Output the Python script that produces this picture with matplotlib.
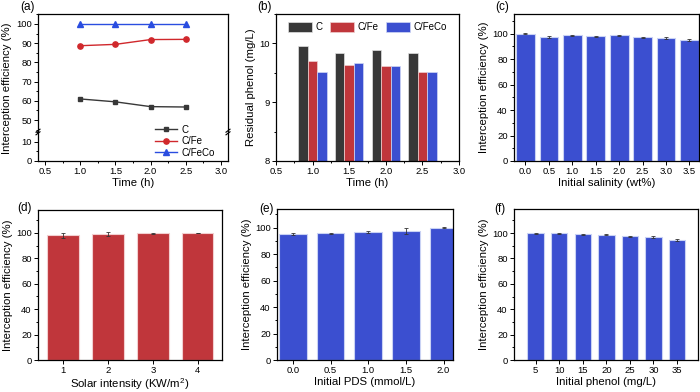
import numpy as np
import matplotlib
matplotlib.use('Agg')
import matplotlib.pyplot as plt
from matplotlib.ticker import MultipleLocator, FormatStrFormatter
from matplotlib.lines import Line2D

plt.rcParams['font.family'] = ['Liberation Sans', 'DejaVu Sans']
plt.rcParams['mathtext.default'] = 'regular'
plt.rcParams['axes.linewidth'] = 0.9

# (a) interception efficiency vs time
time_a = [1.0, 1.5, 2.0, 2.5]
eff_c = [61.0, 59.5, 57.0, 56.8]
eff_cfe = [88.7, 89.4, 91.9, 92.0]
eff_cfeco = [100.0, 100.0, 100.0, 100.0]

# (b) residual phenol vs time
time_b = [1.0, 1.5, 2.0, 2.5]
res_c = [9.95, 9.83, 9.89, 9.83]
res_cfe = [9.70, 9.63, 9.61, 9.51]
res_cfeco = [9.51, 9.67, 9.61, 9.51]

# (c) salinity
salinity = ['0.0', '0.5', '1.0', '1.5', '2.0', '2.5', '3.0', '3.5']
eff_sal = [100.0, 97.6, 98.7, 97.9, 98.7, 97.1, 96.6, 95.3]
err_sal = [0.3, 1.0, 0.5, 0.6, 0.4, 0.5, 0.5, 0.7]

# (d) solar intensity
solar = ['1', '2', '3', '4']
eff_solar = [98.2, 98.9, 99.7, 100.0]
err_solar = [2.0, 1.5, 0.5, 0.2]

# (e) PDS
pds = ['0.0', '0.5', '1.0', '1.5', '2.0']
eff_pds = [95.2, 95.7, 96.7, 97.5, 100.0]
err_pds = [1.0, 0.5, 0.5, 2.0, 0.2]

# (f) initial phenol
phenol = ['5', '10', '15', '20', '25', '30', '35']
eff_phenol = [99.7, 99.7, 99.2, 98.7, 97.4, 96.9, 94.5]
err_phenol = [0.2, 0.2, 0.4, 0.4, 0.5, 0.6, 0.5]

W, H = 700, 392
fig = plt.figure(figsize=(7, 3.92), dpi=100)


def add_ax(l, t, r, b):
    # axes box given in pixels from the top-left corner
    return fig.add_axes([l / W, 1 - b / H, (r - l) / W, (b - t) / H])


def style(ax):
    ax.tick_params(which='both', direction='out', labelsize=6.8, width=0.7,
                   top=False, right=False, pad=1.5)
    ax.tick_params(which='major', length=3)
    ax.tick_params(which='minor', length=1.7)


blue = '#3b4fd0'
red = '#c0363b'
dark = '#383838'
lab_fs = 8.2

# ---------- (a) broken y axis ----------
brk = 132
ax_top = add_ax(38, 14, 228, brk)
ax_bot = add_ax(38, brk, 228, 161)
for ax in (ax_top, ax_bot):
    ax.plot(time_a, eff_c, '-s', color=dark, ms=3.5, lw=1.0)
    ax.plot(time_a, eff_cfe, '-o', color='#d0282c', ms=3.8, lw=1.0)
    ax.plot(time_a, eff_cfeco, '-^', color='#2a4de0', ms=3.8, lw=1.0)
    ax.set_xlim(0.4, 3.1)
    style(ax)
    ax.xaxis.set_major_locator(MultipleLocator(0.5))
    ax.xaxis.set_minor_locator(MultipleLocator(0.25))
    ax.yaxis.set_minor_locator(MultipleLocator(5))
ax_top.set_ylim(43.8, 105.2)
ax_top.set_yticks([50, 60, 70, 80, 90, 100])
ax_top.spines['bottom'].set_visible(False)
ax_top.tick_params(which='both', bottom=False, labelbottom=False)
ax_bot.set_ylim(0, 15)
ax_bot.set_yticks([0, 10])
ax_bot.spines['top'].set_visible(False)
ax_bot.xaxis.set_major_formatter(FormatStrFormatter('%.1f'))
ax_bot.set_xlabel('Time (h)', fontsize=lab_fs, labelpad=1)
fig.text(7 / W, 1 - 88 / H, 'Interception efficiency (%)', rotation=90,
         fontsize=lab_fs, ha='center', va='center')
# break marks on both spines
for xpx in (38, 228):
    for dy in (-1.3, 1.3):
        fig.add_artist(Line2D([(xpx - 2) / W, (xpx + 2) / W],
                              [1 - (brk + dy + 1.5) / H, 1 - (brk + dy - 1.5) / H],
                              color='k', lw=0.8))
handles_a = [Line2D([], [], color=dark, marker='s', ms=3.5, lw=1.0, label='C'),
             Line2D([], [], color='#d0282c', marker='o', ms=3.8, lw=1.0, label='C/Fe'),
             Line2D([], [], color='#2a4de0', marker='^', ms=3.8, lw=1.0, label='C/FeCo')]
fig.legend(handles=handles_a, loc='upper left', bbox_to_anchor=(150 / W, 1 - 120 / H),
           frameon=False, fontsize=7, handlelength=2.3, labelspacing=0.15,
           handletextpad=0.4, borderpad=0)

# ---------- (b) residual phenol ----------
axb = add_ax(276, 14, 459, 161)
bw = 0.13
xb = np.array(time_b)
axb.bar(xb - bw, res_c, bw, color=dark, edgecolor='#e0e0e0', lw=0.5, label='C')
axb.bar(xb, res_cfe, bw, color=red, edgecolor='#f0d0d0', lw=0.5, label='C/Fe')
axb.bar(xb + bw, res_cfeco, bw, color=blue, edgecolor='#d0d8f5', lw=0.5, label='C/FeCo')
axb.set_xlim(0.5, 3.0)
axb.set_ylim(8, 10.5)
axb.set_yticks([8, 9, 10])
axb.xaxis.set_major_locator(MultipleLocator(0.5))
axb.xaxis.set_minor_locator(MultipleLocator(0.25))
axb.yaxis.set_minor_locator(MultipleLocator(0.5))
axb.xaxis.set_major_formatter(FormatStrFormatter('%.1f'))
style(axb)
axb.set_xlabel('Time (h)', fontsize=lab_fs, labelpad=1)
axb.set_ylabel('Residual phenol (mg/L)', fontsize=lab_fs, labelpad=2)
axb.legend(loc='upper center', ncol=3, frameon=False, fontsize=7,
           handlelength=2.4, handleheight=1.1, columnspacing=0.8,
           handletextpad=0.4, bbox_to_anchor=(0.5, 0.99), borderpad=0.2)


# ---------- bar panels ----------
def bar_panel(box, labels, x, vals, errs, color, edge, xlim, top, xlabel, width):
    ax = add_ax(*box)
    ax.bar(x, vals, width, color=color, edgecolor=edge, lw=0.8,
           yerr=errs, error_kw=dict(ecolor='#333333', elinewidth=0.6, capsize=1.3, capthick=0.6))
    ax.set_xticks(x)
    ax.set_xticklabels(labels)
    ax.set_xlim(*xlim)
    ax.set_ylim(0, top)
    ax.set_yticks([0, 20, 40, 60, 80, 100])
    ax.yaxis.set_minor_locator(MultipleLocator(10))
    style(ax)
    ax.set_xlabel(xlabel, fontsize=lab_fs, labelpad=1)
    ax.set_ylabel('Interception efficiency (%)', fontsize=lab_fs, labelpad=2)
    return ax


bar_panel((514, 14, 699, 161), salinity, np.arange(len(salinity)), eff_sal, err_sal,
          blue, '#c9d2f4', (-0.49, 7.41), 115.5, 'Initial salinity (wt%)', 0.8)
bar_panel((38, 210, 222, 360), solar, np.arange(1, len(solar) + 1), eff_solar, err_solar,
          red, '#f2cfd0', (0.44, 4.54), 118, 'Solar intensity (KW/m$^2$)', 0.7)
bar_panel((277, 209, 453, 360), pds, np.arange(len(pds)), eff_pds, err_pds,
          blue, '#c9d2f4', (-0.42, 4.25), 114, 'Initial PDS (mmol/L)', 0.73)
bar_panel((514, 209, 698, 360), phenol, np.arange(len(phenol)), eff_phenol, err_phenol,
          blue, '#c9d2f4', (-0.92, 6.89), 119, 'Initial phenol (mg/L)', 0.7)

# panel letters
for txt, x, y in [('(a)', 20, 7), ('(b)', 257, 7), ('(c)', 495, 7),
                  ('(d)', 17, 208), ('(e)', 259, 209), ('(f)', 494, 209)]:
    fig.text(x / W, 1 - y / H, txt, fontsize=8.5, ha='left', va='center')

fig.savefig('out.png', dpi=100)
